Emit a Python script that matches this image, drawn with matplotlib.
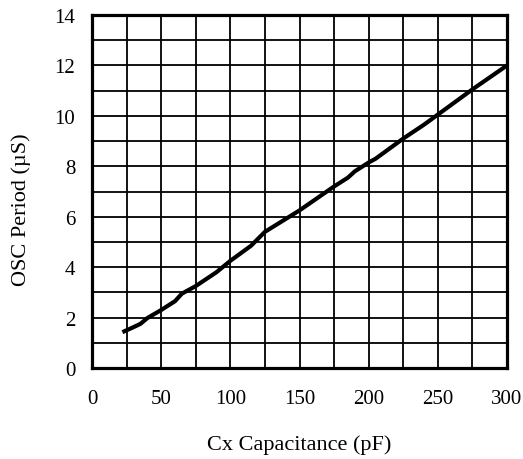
import matplotlib
matplotlib.use("Agg")
import matplotlib.pyplot as plt
import numpy as np

plt.rcParams['font.family'] = ['Liberation Serif', 'DejaVu Serif']

# data
cap_pf = [22, 30, 35, 40, 50, 60, 65, 75, 90, 100, 110, 115, 125,
          150, 175, 185, 190, 200, 205, 225, 240, 250, 275, 300]
period_us = [1.42, 1.62, 1.75, 1.98, 2.30, 2.65, 2.95, 3.25, 3.80, 4.25, 4.65, 4.85, 5.40,
             6.25, 7.20, 7.55, 7.80, 8.15, 8.30, 9.10, 9.65, 10.05, 11.05, 12.0]

x_ticks = [0, 50, 100, 150, 200, 250, 300]
y_ticks = [0, 2, 4, 6, 8, 10, 12, 14]

# plot
fig = plt.figure(figsize=(5.23, 4.6), dpi=100)
ax = fig.add_axes([92/523, 1 - 369/460, 415/523, 353/460])

ax.plot(cap_pf, period_us, color='black', lw=3, solid_capstyle='butt', zorder=3)

ax.set_xlim(0, 300)
ax.set_ylim(0, 14)
ax.set_xticks(x_ticks)
ax.set_yticks(y_ticks)
ax.set_xticks(np.arange(0, 301, 25), minor=True)
ax.set_yticks(np.arange(0, 15, 1), minor=True)
ax.grid(which='both', color='black', lw=1.3)
ax.tick_params(which='both', length=0, labelsize=15)
ax.tick_params(axis='x', pad=15)
ax.tick_params(axis='y', pad=12)

for s in ax.spines.values():
    s.set_linewidth(2.3)
    s.set_zorder(4)

ax.set_xlabel('Cx Capacitance (pF)', fontsize=16)
ax.set_ylabel('OSC Period (µS)', fontsize=16)
ax.xaxis.set_label_coords(0.5, -(445 - 369)/353)
ax.yaxis.set_label_coords(-(92 - 21)/415, (369 - 209.5)/353)
ax.xaxis.label.set_va('center')
ax.yaxis.label.set_va('center')

fig.savefig('out.png', dpi=100)
